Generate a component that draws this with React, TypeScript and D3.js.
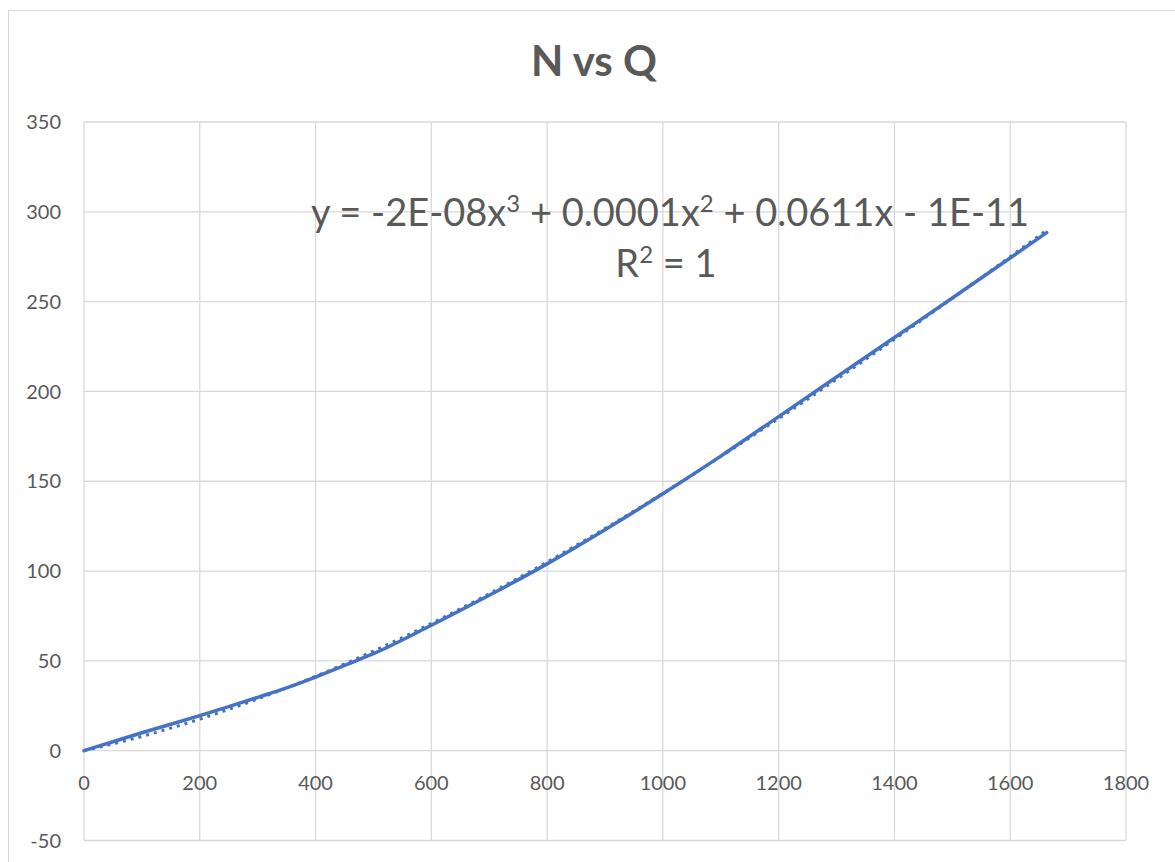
import React from "react";
import * as d3 from "d3";

const title = "N vs Q";
const qValues = [0, 50, 100, 150, 200, 250, 300, 350, 400, 450, 500, 600, 700, 800, 900, 1000, 1100, 1200, 1300, 1400, 1500, 1663];
const nValues = [0, 5, 10, 14.7, 19.5, 24.5, 29.7, 35, 41, 47.5, 54, 69.8, 86.5, 104, 123, 143, 164, 186, 208, 230, 252, 288.4];
const xTicks = [0, 200, 400, 600, 800, 1000, 1200, 1400, 1600, 1800];
const yTicks = [-50, 0, 50, 100, 150, 200, 250, 300, 350];
const eqPrefix = "y = -2E-08x";
const eqMid = " + 0.0001x";
const eqSuffix = " + 0.0611x - 1E-11";
const r2Prefix = "R";
const r2Suffix = " = 1";

const W = 1175;
const H = 862;
const FONT = "Lato, 'Open Sans', sans-serif";
const TXT = "#595959";
const GRID = "#D9D9D9";
const BLUE = "#4472C4";

// least-squares cubic trendline through the origin (intercept ≈ 0, as shown)
function fitCubicOrigin(xs: number[], ys: number[]): number[] {
  const n = 3;
  const s = 1000;
  const A: number[][] = Array.from({ length: n }, () => new Array(n + 1).fill(0));
  xs.forEach((xv, k) => {
    const t = xv / s;
    const p = [t, t * t, t * t * t];
    for (let i = 0; i < n; i++) {
      for (let j = 0; j < n; j++) A[i][j] += p[i] * p[j];
      A[i][n] += p[i] * ys[k];
    }
  });
  for (let c = 0; c < n; c++) {
    let piv = c;
    for (let r = c + 1; r < n; r++) if (Math.abs(A[r][c]) > Math.abs(A[piv][c])) piv = r;
    [A[c], A[piv]] = [A[piv], A[c]];
    for (let r = 0; r < n; r++) {
      if (r === c) continue;
      const f = A[r][c] / A[c][c];
      for (let k = c; k <= n; k++) A[r][k] -= f * A[c][k];
    }
  }
  return A.map((row, i) => row[n] / row[i]);
}

export default function App() {
  const x = d3.scaleLinear().domain([0, 1800]).range([84, 1126]);
  const y = d3.scaleLinear().domain([-50, 350]).range([840.5, 122]);

  const pts: [number, number][] = qValues.map((q, i) => [q, nValues[i]]);
  const line = d3
    .line<[number, number]>()
    .x((d) => x(d[0]))
    .y((d) => y(d[1]))
    .curve(d3.curveMonotoneX);

  const coef = fitCubicOrigin(qValues, nValues);
  const poly = (v: number) => {
    const t = v / 1000;
    return coef[0] * t + coef[1] * t * t + coef[2] * t * t * t;
  };
  const qMax = d3.max(qValues) as number;
  const trendX = d3.range(0, qMax, 5).concat([qMax]);
  const trendPts: [number, number][] = trendX.map((v) => [v, poly(v)]);
  const trendLine = d3
    .line<[number, number]>()
    .x((d) => x(d[0]))
    .y((d) => y(d[1]));

  return (
    <svg
      width={W}
      height={H}
      style={{ position: "absolute", left: 0, top: 0, display: "block", background: "#fff" }}
    >
      <rect x={8.5} y={10.5} width={W + 20} height={H + 20} fill="#fff" stroke={GRID} strokeWidth={1} />
      <text x={594} y={76} textAnchor="middle" fontFamily={FONT} fontWeight={700} fontSize={42} fill={TXT}>
        {title}
      </text>
      {yTicks.map((t) => (
        <line key={"gy" + t} x1={x(0)} x2={x(1800)} y1={y(t)} y2={y(t)} stroke={GRID} strokeWidth={1.3} />
      ))}
      {xTicks.map((t) => (
        <line key={"gx" + t} x1={x(t)} x2={x(t)} y1={y(-50)} y2={y(350)} stroke={GRID} strokeWidth={1.3} />
      ))}
      {yTicks.map((t) => (
        <text
          key={"ly" + t}
          x={61}
          y={y(t)}
          dy="0.36em"
          textAnchor="end"
          fontFamily={FONT}
          fontSize={20}
          fill={TXT}
        >
          {t}
        </text>
      ))}
      {xTicks.map((t) => (
        <text
          key={"lx" + t}
          x={x(t)}
          y={790}
          textAnchor="middle"
          fontFamily={FONT}
          fontSize={20}
          fill={TXT}
        >
          {t}
        </text>
      ))}
      <path d={line(pts) || ""} fill="none" stroke={BLUE} strokeWidth={3.5} strokeLinecap="round" />
      <path
        d={trendLine(trendPts) || ""}
        fill="none"
        stroke={BLUE}
        strokeWidth={3}
        strokeDasharray="3 5"
      />
      <text x={670} y={226} textAnchor="middle" fontFamily={FONT} fontSize={38} fill={TXT}>
        {eqPrefix}
        <tspan fontSize={24} dy={-14}>3</tspan>
        <tspan dy={14}>{eqMid}</tspan>
        <tspan fontSize={24} dy={-14}>2</tspan>
        <tspan dy={14}>{eqSuffix}</tspan>
      </text>
      <text x={666} y={277} textAnchor="middle" fontFamily={FONT} fontSize={38} fill={TXT}>
        {r2Prefix}
        <tspan fontSize={24} dy={-14}>2</tspan>
        <tspan dy={14}>{r2Suffix}</tspan>
      </text>
    </svg>
  );
}
